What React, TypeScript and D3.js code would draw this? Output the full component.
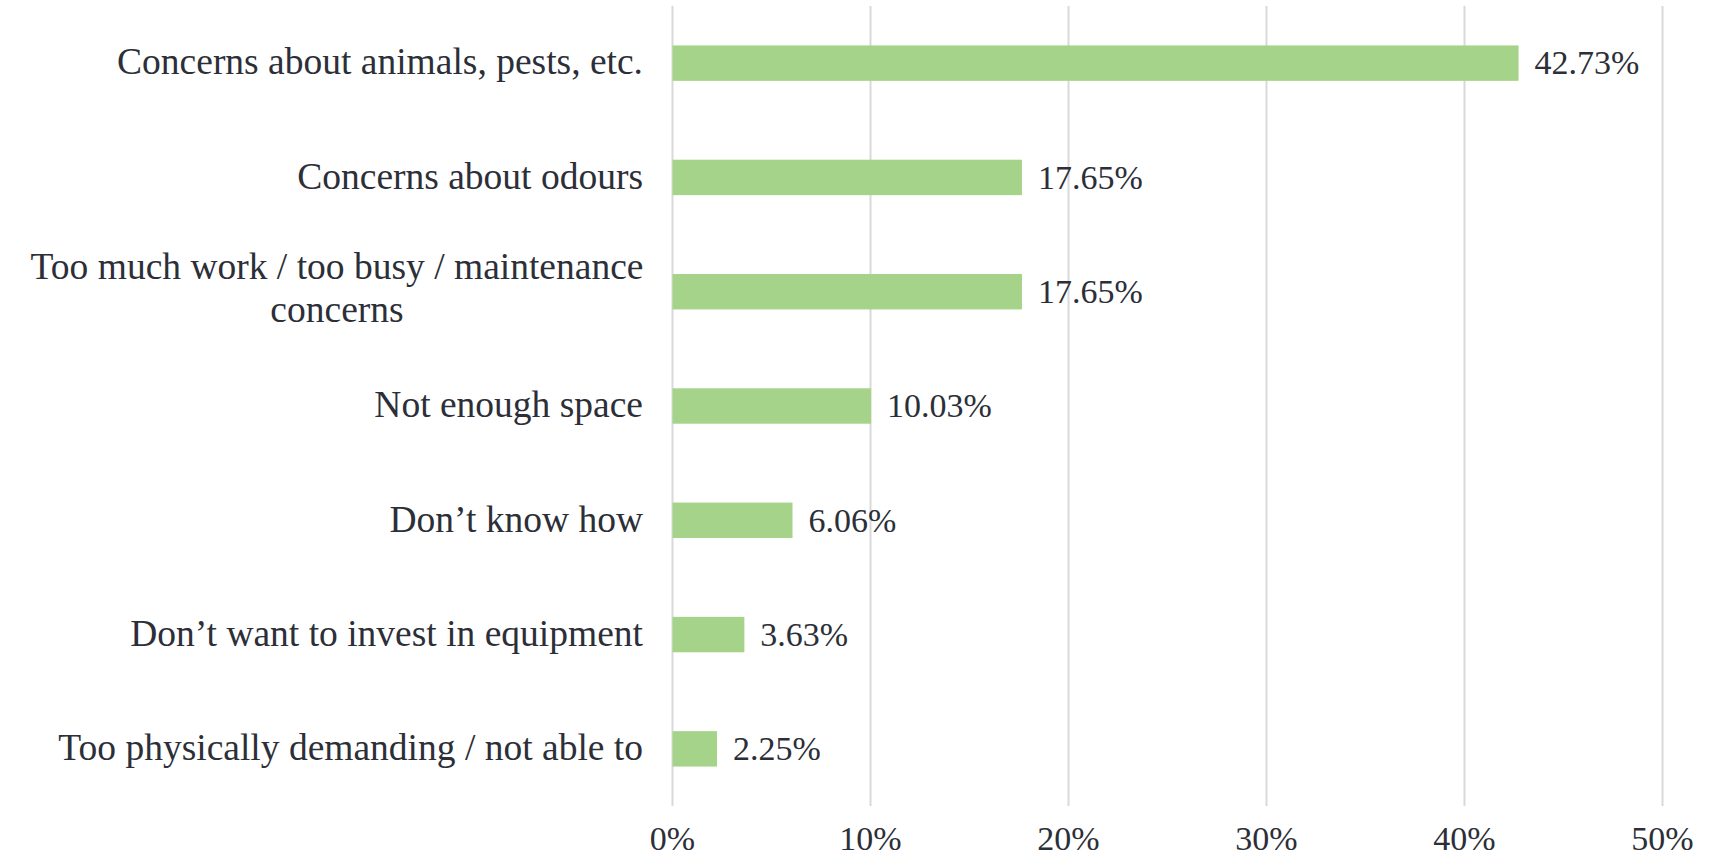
import React, { useEffect } from 'react'
import * as d3 from 'd3'

const categories: string[][] = [
    ['Concerns about animals, pests, etc.'],
    ['Concerns about odours'],
    ['Too much work / too busy / maintenance', 'concerns'],
    ['Not enough space'],
    ['Don\u2019t know how'],
    ['Don\u2019t want to invest in equipment'],
    ['Too physically demanding / not able to'],
]
const values: number[] = [42.73, 17.65, 17.65, 10.03, 6.06, 3.63, 2.25]
const ticks: number[] = [0, 10, 20, 30, 40, 50]

const width = 1726
const height = 856
const left = 672.5
const right = 1662.5
const top = 6
const bottom = 806

const textColor = '#2c2f38'
const fontFamily = '"Liberation Serif", "Times New Roman", serif'

const App = () => {
    useEffect(() => {
        document.body.style.margin = '0'
    }, [])

    const x = d3.scaleLinear().domain([0, 50]).range([left, right])
    const y = d3.scaleBand<number>()
        .domain(d3.range(values.length))
        .range([top, bottom])
        .paddingInner(0.69)
        .paddingOuter(0.345)

    const lineHeight = 43
    const labelRight = 643
    const multiCenter = 337

    return (
        <svg width={width} height={height} style={{ display: 'block', background: '#fff' }}>
            {/* gridlines */}
            {ticks.map(t => (
                <line key={`grid-${t}`} x1={x(t)} x2={x(t)} y1={top} y2={bottom}
                      stroke="#d9d9d9" strokeWidth={2} />
            ))}
            {/* bars */}
            {values.map((v, i) => (
                <rect key={`bar-${i}`} x={x(0)} y={y(i)} width={x(v) - x(0)} height={y.bandwidth()}
                      fill="#a6d38a" />
            ))}
            {/* value labels */}
            {values.map((v, i) => (
                <text key={`val-${i}`} x={x(v) + 16} y={(y(i) ?? 0) + y.bandwidth() / 2}
                      dy="0.33em" fontFamily={fontFamily} fontSize={34} fill={textColor}>
                    {v.toFixed(2)}%
                </text>
            ))}
            {/* category labels */}
            {categories.map((lines, i) => {
                const cy = (y(i) ?? 0) + y.bandwidth() / 2
                const startY = cy - (lines.length - 1) * lineHeight / 2 - 2
                if (lines.length === 1) {
                    return (
                        <text key={`cat-${i}`} x={labelRight} y={cy} dy="0.3em" textAnchor="end"
                              fontFamily={fontFamily} fontSize={37.5} fill={textColor}>
                            {lines[0]}
                        </text>
                    )
                }
                return (
                    <text key={`cat-${i}`} textAnchor="middle" fontFamily={fontFamily}
                          fontSize={37.5} fill={textColor}>
                        {lines.map((l, j) => (
                            <tspan key={j} x={multiCenter} y={startY + j * lineHeight} dy="0.3em">{l}</tspan>
                        ))}
                    </text>
                )
            })}
            {/* x tick labels */}
            {ticks.map(t => (
                <text key={`tick-${t}`} x={x(t)} y={850} textAnchor="middle"
                      fontFamily={fontFamily} fontSize={34} fill={textColor}>
                    {t}%
                </text>
            ))}
        </svg>
    )
}

export default App
